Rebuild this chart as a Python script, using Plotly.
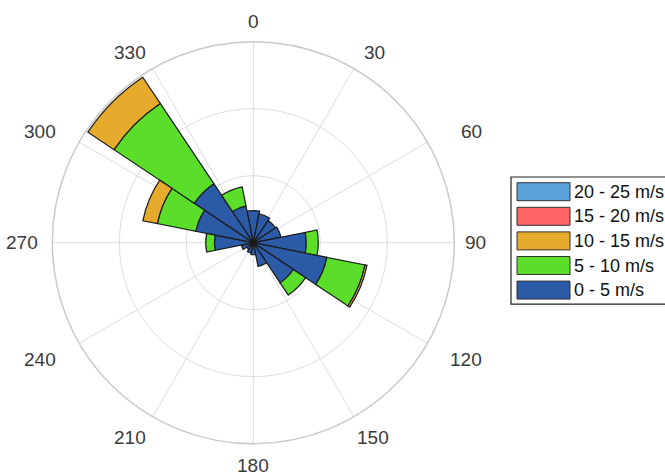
import math
import plotly.graph_objects as go

# Wind direction sectors (degrees, clockwise from north) and speed-class frequencies
directions = [0, 22.5, 45, 67.5, 90, 112.5, 135, 157.5,
              180, 202.5, 225, 247.5, 270, 292.5, 315, 337.5]

speed_0_5 = [2.4, 2.2, 2.0, 2.1, 3.95, 5.6, 3.6, 1.8,
             0.9, 0.8, 0.6, 0.9, 2.9, 4.37, 5.3, 2.8]
speed_5_10 = [0, 0, 0, 0, 0.9, 2.9, 1.1, 0,
              0, 0, 0, 0, 0.65, 2.93, 7.2, 1.45]
speed_10_15 = [0, 0, 0, 0, 0, 0.15, 0, 0,
               0, 0, 0, 0, 0, 1.1, 2.35, 0]
speed_15_20 = [0] * 16
speed_20_25 = [0] * 16

class_labels = ["0 - 5 m/s", "5 - 10 m/s", "10 - 15 m/s", "15 - 20 m/s", "20 - 25 m/s"]
class_values = [speed_0_5, speed_5_10, speed_10_15, speed_15_20, speed_20_25]
class_colors = ["#2b5ba6", "#5ade2a", "#e6aa2c", "#ff6464", "#5aa2da"]

angle_ticks = list(range(0, 360, 30))
radial_ticks = [5, 10, 15]

W, H = 665.0, 474.0
cx, cy, R = 253.3, 242.7, 201.0   # polar centre and radius in pixels

fig = go.Figure()
for label, vals, color in zip(class_labels, class_values, class_colors):
    fig.add_trace(go.Barpolar(
        r=vals,
        theta=directions,
        width=[22.5] * len(directions),
        name=label,
        marker=dict(color=color, line=dict(color="#1a1a1a", width=1.2)),
        showlegend=False,
    ))

fig.update_layout(
    width=665, height=474,
    margin=dict(l=0, r=0, t=0, b=0),
    paper_bgcolor="white",
    font=dict(family="Liberation Sans, Arial, sans-serif", color="#333333"),
    polar=dict(
        domain=dict(x=[(cx - R) / W, (cx + R) / W],
                    y=[1 - (cy + R) / H, 1 - (cy - R) / H]),
        bgcolor="white",
        barmode="stack",
        bargap=0,
        angularaxis=dict(
            direction="clockwise",
            rotation=90,
            tickmode="array",
            tickvals=angle_ticks,
            showticklabels=False,
            ticks="",
            showgrid=True,
            gridcolor="#dddddd",
            gridwidth=1,
            showline=True,
            linecolor="#cacaca",
            linewidth=1.5,
        ),
        radialaxis=dict(
            range=[0, 15],
            tickmode="array",
            tickvals=radial_ticks,
            showticklabels=False,
            ticks="",
            showline=False,
            showgrid=True,
            gridcolor="#dddddd",
            gridwidth=1,
        ),
    ),
)

# Angle labels around the rim (horizontal / vertical label distances in pixels)
label_rx = {0: 221, 30: 242, 60: 252, 90: 222, 120: 246, 150: 240,
            180: 223, 210: 246, 240: 246, 270: 231, 300: 246, 330: 246}
label_ry = {0: 221, 30: 220, 60: 222, 90: 221, 120: 234, 150: 225,
            180: 223, 210: 225, 240: 234, 270: 221, 300: 222, 330: 220}
for a in angle_ticks:
    x = cx + label_rx[a] * math.sin(math.radians(a))
    y = cy - label_ry[a] * math.cos(math.radians(a))
    fig.add_annotation(xref="paper", yref="paper", x=x / W, y=1 - y / H,
                       text=str(a), showarrow=False, xanchor="center", yanchor="middle",
                       font=dict(size=19, color="#3a3a3a"))

# Boxed legend with wide swatches, highest speed class on top
row_h = 24.6
first_center = 191.7
box_top = 177
box_bottom = first_center + row_h * 4 + 14
fig.add_shape(type="rect", xref="paper", yref="paper",
              x0=511 / W, x1=1.2,
              y0=1 - box_bottom / H, y1=1 - box_top / H,
              line=dict(color="#222222", width=1.2), fillcolor="white", layer="above")
for i, (label, color) in enumerate(zip(class_labels[::-1], class_colors[::-1])):
    yc = first_center + row_h * i
    fig.add_shape(type="rect", xref="paper", yref="paper",
                  x0=517 / W, x1=570 / W,
                  y0=1 - (yc + 9) / H, y1=1 - (yc - 9) / H,
                  line=dict(color="#333333", width=1), fillcolor=color, layer="above")
    fig.add_annotation(xref="paper", yref="paper", x=572 / W, y=1 - yc / H,
                       text=label, showarrow=False, xanchor="left", yanchor="middle",
                       font=dict(size=18, color="#111111"))

fig.write_html("out.html")
